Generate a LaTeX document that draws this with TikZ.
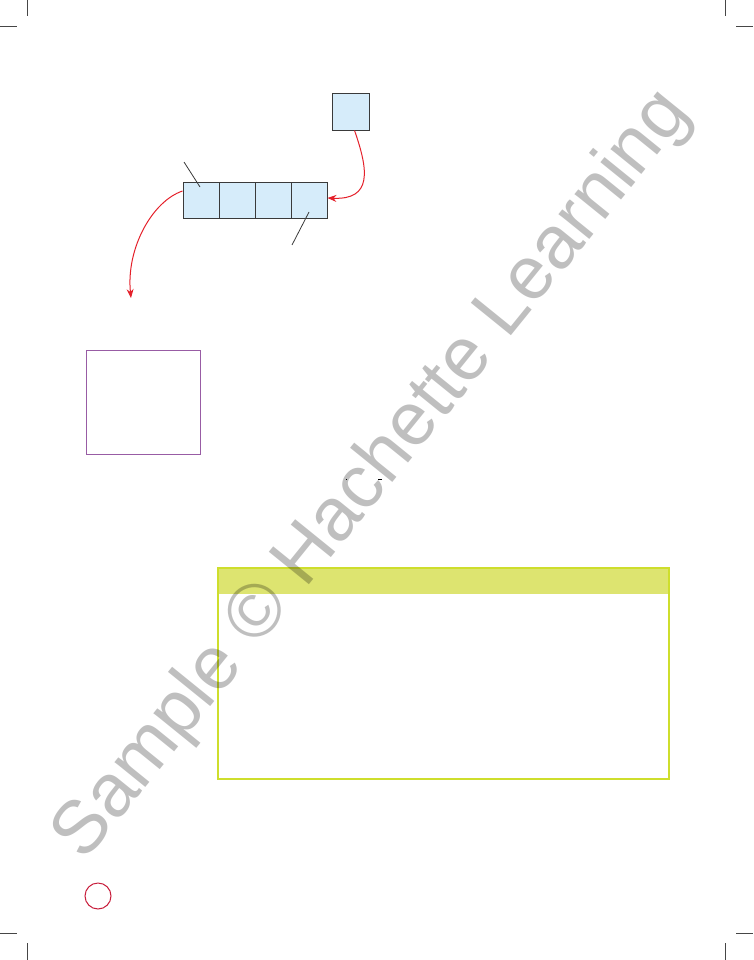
\documentclass[tikz,border=0pt]{standalone}
\usepackage{fontspec}
\newfontfamily\markfont{Liberation Sans}
\usepackage{tikz}
\usetikzlibrary{arrows.meta}

\definecolor{cellblue}{RGB}{214,236,250}
\definecolor{celledge}{RGB}{58,58,58}
\definecolor{flowred}{RGB}{228,32,42}
\definecolor{panelpurple}{RGB}{152,92,164}
\definecolor{notelime}{RGB}{206,222,44}
\definecolor{notehead}{RGB}{221,228,112}
\definecolor{pagered}{RGB}{200,30,60}
\definecolor{cropgray}{RGB}{70,70,70}

\tikzset{
  cell/.style={draw=celledge, fill=cellblue, line width=0.9pt, inner sep=0pt,
    minimum width=36pt, minimum height=36pt},
  flow/.style={flowred, line width=1pt, -{Stealth[length=9pt,width=7pt]}},
  pointer/.style={celledge, line width=0.8pt},
  crop/.style={cropgray, line width=1pt}
}

\begin{document}
\begin{tikzpicture}[x=1pt,y=-1pt]
\useasboundingbox (0,0) rectangle (753,960);
% crop marks
\draw[crop] (27,0) -- (27,16);
\draw[crop] (0,27) -- (17,27);
\draw[crop] (725,0) -- (725,16);
\draw[crop] (736,27) -- (753,27);
\draw[crop] (0,933) -- (17,933);
\draw[crop] (27,943) -- (27,960);
\draw[crop] (736,933) -- (753,933);
\draw[crop] (725,943) -- (725,960);
% queue
\node[cell, minimum width=37pt, minimum height=37pt] (newitem) at (350.5,111.5) {};
\node[cell] (q1) at (201,200) {};
\node[cell] (q2) at (237,200) {};
\node[cell] (q3) at (273,200) {};
\node[cell] (q4) at (309,200) {};
\coordinate (headtip) at (184,162);
\coordinate (headend) at (200,187);
\coordinate (tailend) at (309,212);
\coordinate (tailtip) at (292,245);
\draw[pointer] (headtip) -- (headend);
\draw[pointer] (tailend) -- (tailtip);
\coordinate (outpt) at (131,298);
\draw[flow] ([xshift=4pt]newitem.south) .. controls +(14,40) and +(45,2) .. ([yshift=2pt]q4.east);
\draw[flow] ([yshift=9pt]q1.west) .. controls +(-30,10) and +(-5,-50) .. (outpt);
% output panel
\node[draw=panelpurple, line width=1pt, minimum width=114pt, minimum height=104pt] (panel) at (143,402) {};
% stray marks
\fill[black] (345.5,478.5) rectangle (346.5,479.5);
\draw[black, line width=0.6pt] (378,479) -- (382,479);
% note box
\fill[notehead] (218,568) rectangle (669,594);
\draw[notelime, line width=1.6pt] (218,568) rectangle (669,779);
% page number circle
\draw[pagered, line width=1pt] (98,896) circle (13);
% watermark
\node[text=black, text opacity=0.25, rotate=51, anchor=base, inner sep=0pt,
  font=\markfont\fontsize{75}{75}\selectfont] (mark) at (388,488) {Sample © Hachette Learning};
\end{tikzpicture}
\end{document}
